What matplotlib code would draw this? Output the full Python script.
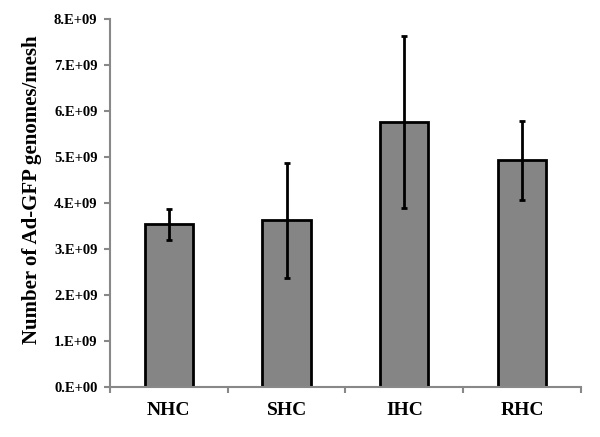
import numpy as np
import matplotlib
matplotlib.use("Agg")
import matplotlib.pyplot as plt

# data
groups = ["NHC", "SHC", "IHC", "RHC"]
genomes = [3.54e9, 3.63e9, 5.76e9, 4.93e9]
errors = [0.34e9, 1.25e9, 1.87e9, 0.86e9]
ytick_vals = np.arange(0, 9e9, 1e9)
ytick_labels = ["%.0f.E+09" % (v / 1e9) if v > 0 else "0.E+00" for v in ytick_vals]

plt.rcParams["font.family"] = ["Liberation Serif", "DejaVu Serif"]
plt.rcParams["font.weight"] = "bold"

fig = plt.figure(figsize=(6, 4.37), dpi=100)
ax = fig.add_axes([0.1833, 0.1144, 0.785, 0.8421])

x = np.arange(len(groups))
ax.bar(x, genomes, width=0.41, color="#858585", edgecolor="black", linewidth=2,
       yerr=errors, error_kw=dict(ecolor="black", elinewidth=2, capsize=2, capthick=2),
       zorder=2)

ax.set_xlim(-0.5, len(groups) - 0.5)
ax.set_ylim(0, 8e9)
ax.set_yticks(ytick_vals)
ax.set_yticklabels(ytick_labels, fontsize=10.5, fontweight="bold")
ax.set_xticks(x)
ax.set_xticklabels(groups, fontsize=14, fontweight="bold")
ax.tick_params(axis="x", length=0, pad=11)
ax.set_xticks(np.arange(-0.5, len(groups)), minor=True)
ax.tick_params(axis="x", which="minor", length=4, color="#888888", width=1.5)
ax.tick_params(axis="y", length=4, color="#888888", width=1.5, pad=5)

for side in ["top", "right"]:
    ax.spines[side].set_visible(False)
for side in ["left", "bottom"]:
    ax.spines[side].set_color("#888888")
    ax.spines[side].set_linewidth(1.5)

ax.set_ylabel("Number of Ad-GFP genomes/mesh", fontsize=15, fontweight="bold")
ax.yaxis.set_label_coords(-0.145, 0.535)

fig.savefig("out.png", dpi=100)
